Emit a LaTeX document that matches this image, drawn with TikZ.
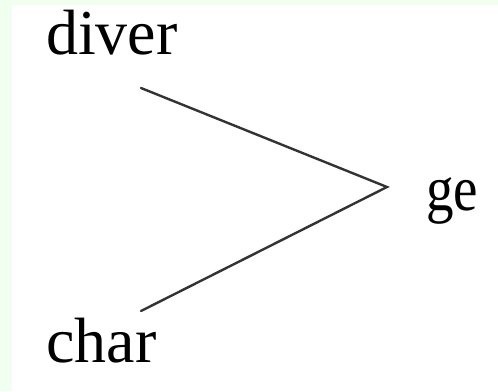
\documentclass[tikz,border=0pt]{standalone}
\usepackage{fontspec}
\setmainfont{Liberation Serif}
\definecolor{honeydew}{HTML}{F0FFF0}
\tikzset{
  word/.style={inner sep=0pt, anchor=base west, font=\fontsize{64}{64}\selectfont},
  branch/.style={draw=black!80, line width=2.4pt, line cap=round, line join=miter}
}
\begin{document}
\begin{tikzpicture}[x=1pt, y=-1pt]
  % page frame: pale green strip on the left and top, white panel
  \fill[honeydew] (0,0) rectangle (498,391);
  \fill[white] (12,5) rectangle (498,391);
  \useasboundingbox (0,0) rectangle (498,391);

  % word parts
  \node[word] (diver) at (46,54) {diver};
  \node[word] (char)  at (46,362) {char};
  \node[word] (ge)    at (426,210) {\scalebox{0.86}[1]{ge}};

  % ends of the two branches
  \coordinate (top) at (141,88);
  \coordinate (join) at (387,187);
  \coordinate (bottom) at (141,311);

  \draw[branch] (top) -- (join) -- (bottom);
\end{tikzpicture}
\end{document}
